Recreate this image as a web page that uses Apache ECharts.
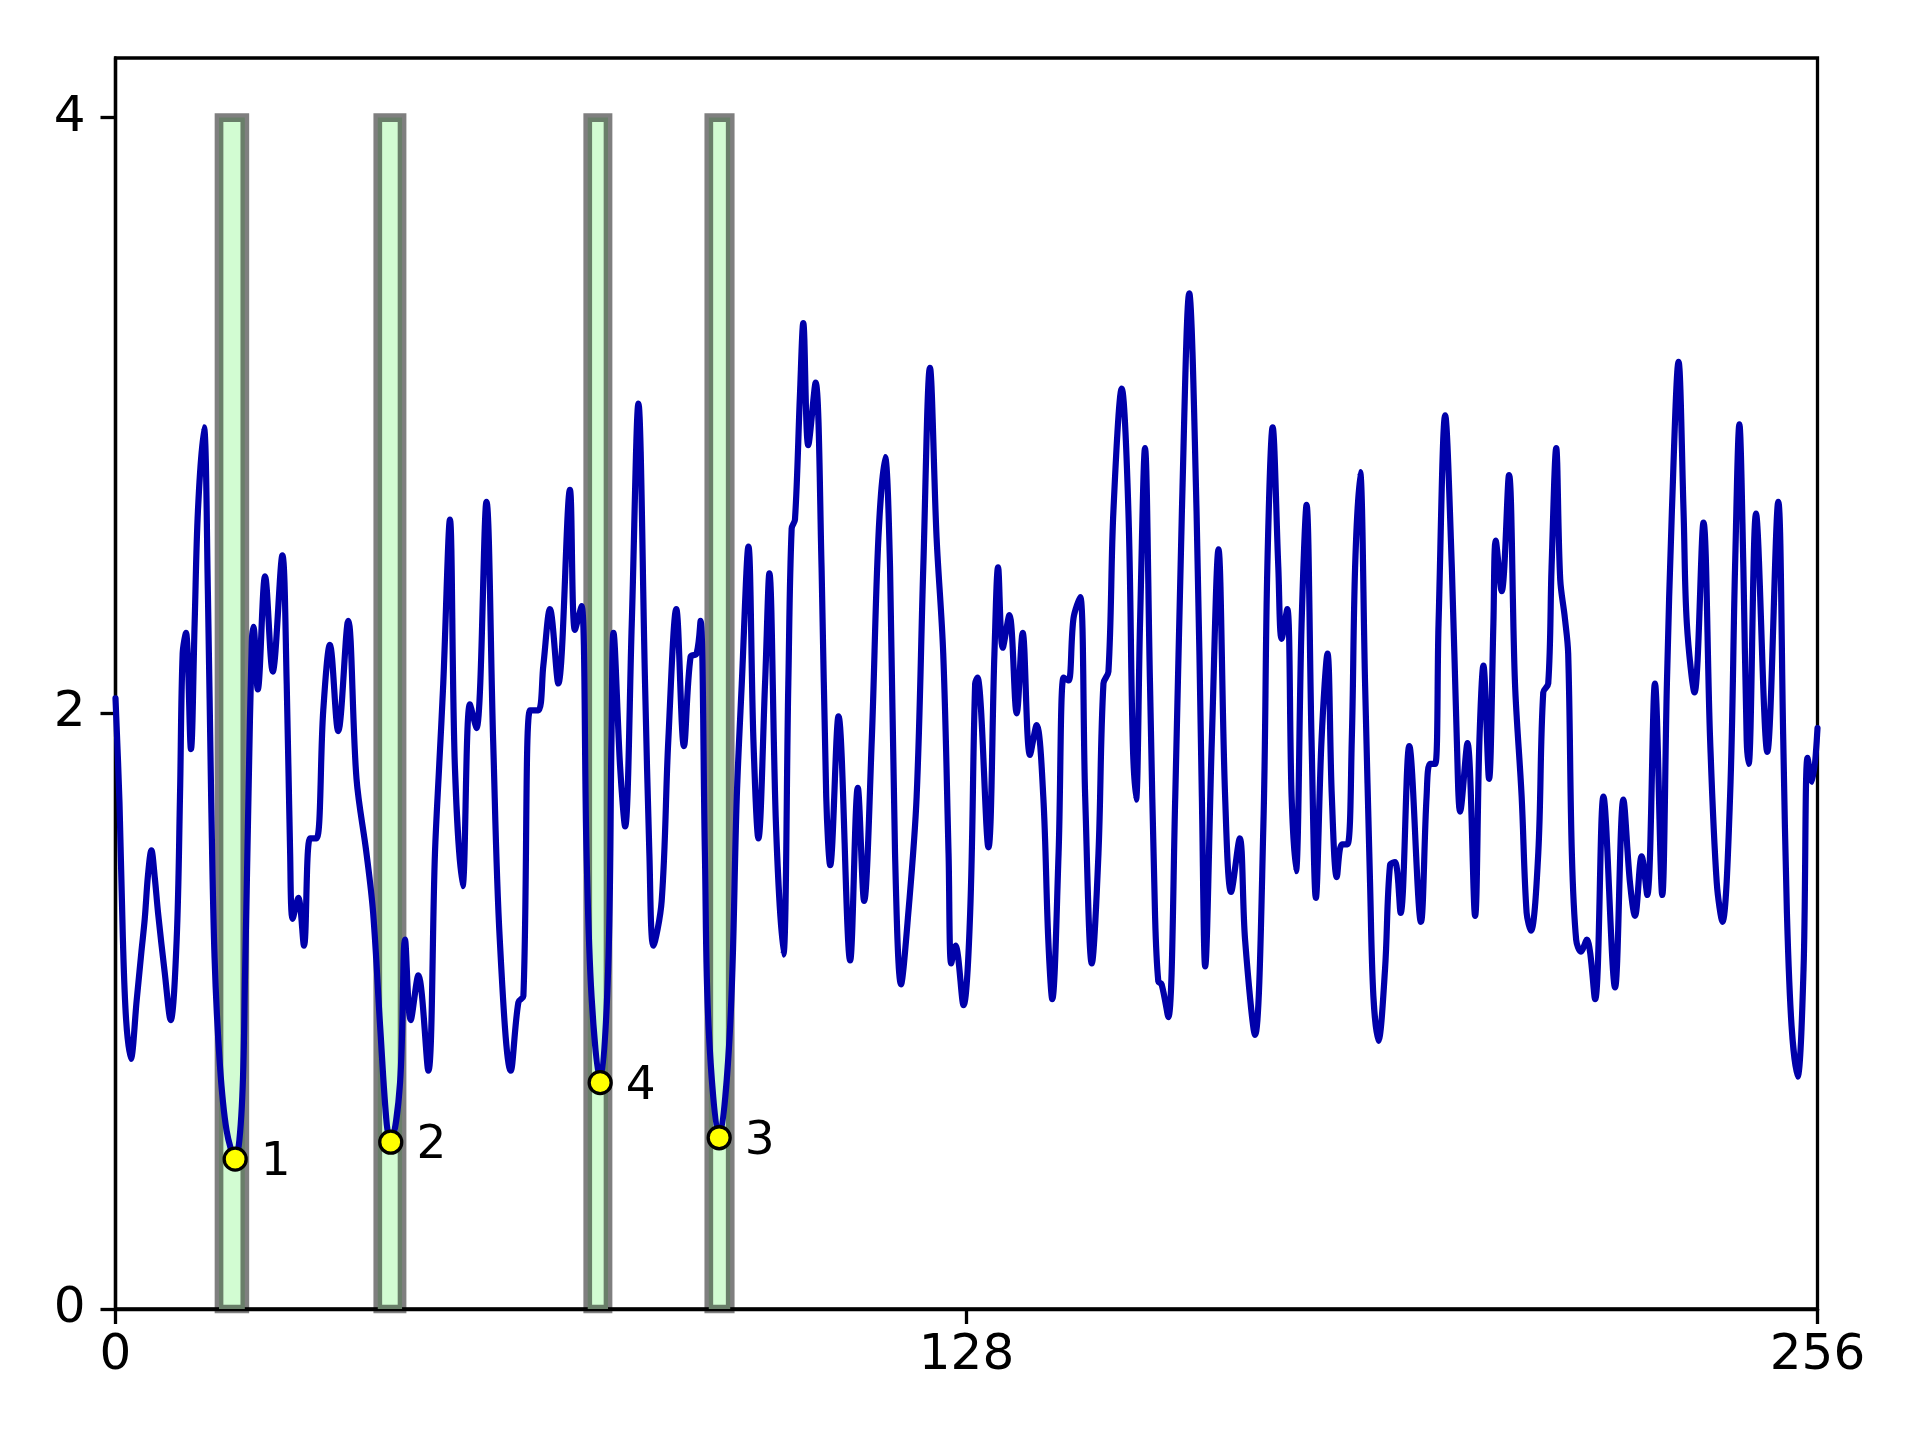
<!DOCTYPE html>
<html>
<head>
<meta charset="utf-8">
<script src="https://cdn.jsdelivr.net/npm/echarts@6/dist/echarts.min.js"></script>
<style>html,body{margin:0;padding:0;background:#fff}#c{width:1920px;height:1440px}</style>
</head>
<body>
<div id="c"></div>
<script>
// signal samples (x, value)
const sigX = [0,0.6,1.1,1.6,2.3,3.2,3.9,4.4,4.9,5.4,5.9,6.4,7.4,8.3,9.2,9.7,10.1,10.6,11.35,11.9,12.4,13.3,13.9,14.4,14.9,15.7,16.7,18.0,19.0,19.5,20.0,20.5,20.75,21.4,22.5,23.65,25.1,25.75,26.25,26.65,27.5,28.35,29.25,30.25,31.25,32.25,33.5,35.0,36.25,37.75,38.75,39.8,40.8,41.4,42.8,43.55,44.4,45.55,47.05,48.05,48.7,49.3,50.3,51.05,52.2,53.3,54.3,55.8,56.8,57.8,59.45,60.6,61.35,62.35,63.6,64.35,65.35,66.6,68.35,69.1,70.1,70.85,71.6,72.9,74.1,74.6,74.9,75.9,76.65,77.65,78.65,79.65,80.3,80.9,82.15,83.15,84.35,85.5,86.5,87.4,88.0,88.65,89.2,90.8,92.45,93.45,94.2,95.2,95.95,96.7,97.7,98.35,99.35,100.45,101.2,101.7,102.2,102.95,103.45,104.2,105.3,106.2,106.9,107.5,108.75,110.5,111.65,112.6,113.75,114.75,115.75,116.5,117.25,118.15,119.25,120.5,121.5,122.5,123.5,124.5,125.3,125.7,126.35,127.55,128.55,129.3,129.65,131.3,132.2,132.75,133.45,134.45,135.55,136.45,137.55,138.55,139.55,140.3,140.9,141.85,142.6,143.35,144.1,145.1,145.85,146.85,147.85,148.6,149.35,150.1,151.35,152.35,153.0,153.5,154.1,154.85,155.6,156.35,156.85,157.35,158.35,159.4,160.4,161.5,162.6,163.4,163.9,164.9,165.9,166.9,167.8,169.1,169.9,171.4,172.65,173.25,174.05,174.9,175.4,176.25,176.9,177.55,178.4,179.15,179.9,180.55,181.4,182.3,182.95,183.7,184.45,185.3,185.95,186.45,187.2,187.95,188.7,189.2,189.95,190.95,191.7,192.45,193.3,194.6,196.35,197.2,197.7,198.5,199.0,200.0,201.0,201.75,202.25,203.35,204.5,205.15,205.75,206.6,207.25,207.6,208.5,209.6,210.5,211.5,212.25,212.9,214.0,214.75,215.5,216.0,216.7,217.3,218.0,218.5,219.05,219.7,220.4,221.3,222.55,223.8,225.55,226.8,227.8,228.55,229.55,230.4,231.55,232.65,233.35,234.1,235.1,235.85,236.35,237.5,238.85,239.85,240.85,241.7,242.85,243.6,244.25,244.85,245.35,245.65,246.75,248.45,250.1,250.85,251.4,252.1,253.0,253.9,254.5,255.2,256];
const sigY = [2.05,1.70,1.25,0.97,0.84,1.04,1.20,1.31,1.46,1.54,1.45,1.33,1.13,0.97,1.24,1.72,2.20,2.27,1.88,2.30,2.68,2.96,2.40,1.70,1.18,0.82,0.60,0.503,0.68,1.14,1.72,2.24,2.29,2.08,2.46,2.14,2.53,2.10,1.55,1.31,1.38,1.22,1.58,1.58,2.01,2.23,1.94,2.31,1.78,1.53,1.33,0.95,0.62,0.56,0.76,1.24,0.97,1.12,0.80,1.53,1.83,2.10,2.65,1.82,1.42,2.03,1.95,2.71,1.91,1.24,0.80,1.03,1.05,2.01,2.01,2.16,2.35,2.10,2.75,2.28,2.36,1.53,1.05,0.76,1.14,1.91,2.27,1.82,1.62,2.30,3.04,2.10,1.53,1.22,1.37,1.91,2.35,1.89,2.19,2.20,2.31,1.53,0.95,0.575,0.95,1.72,2.10,2.56,1.91,1.58,2.10,2.47,1.62,1.19,2.10,2.62,2.65,3.07,3.31,2.90,3.11,2.49,1.72,1.49,1.99,1.17,1.75,1.37,1.91,2.59,2.86,2.49,1.53,1.09,1.33,1.72,2.49,3.16,2.59,2.20,1.53,1.16,1.22,1.02,1.33,2.10,2.12,1.55,2.20,2.49,2.22,2.33,2.00,2.27,1.86,1.96,1.72,1.24,1.04,1.53,2.12,2.11,2.32,2.39,1.72,1.16,1.53,2.10,2.14,2.68,3.09,2.68,1.91,1.71,2.30,2.89,2.10,1.33,1.10,1.09,0.98,1.72,2.68,3.41,2.68,1.72,1.15,1.91,2.55,1.72,1.40,1.58,1.24,0.92,1.62,2.49,2.96,2.49,2.25,2.35,1.72,1.47,2.30,2.70,1.91,1.38,1.91,2.20,1.72,1.45,1.56,1.56,1.91,2.49,2.81,2.10,1.43,1.05,0.90,1.14,1.49,1.50,1.33,1.89,1.30,1.72,1.83,1.83,2.30,3.00,2.49,1.91,1.67,1.90,1.32,1.91,2.16,1.78,2.30,2.58,2.41,2.80,2.10,1.72,1.33,1.27,1.53,2.07,2.10,2.49,2.89,2.45,2.32,2.20,1.53,1.24,1.20,1.24,1.04,1.72,1.08,1.71,1.43,1.32,1.52,1.39,2.10,1.39,2.10,2.68,3.18,2.68,2.30,2.07,2.64,1.91,1.43,1.30,1.72,2.49,2.97,2.49,1.91,1.83,2.67,1.87,2.71,1.91,1.33,0.95,0.78,1.14,1.85,1.77,1.95];

// highlighted windows
const winStart = [15.57, 39.45, 71.03, 89.24];
const winEnd   = [19.45, 43.10, 74.08, 92.46];
const winTop   = [4, 4, 4, 4];

// ranked minima
const minX = [18.0, 41.4, 72.9, 90.8];
const minY = [0.503, 0.56, 0.76, 0.575];
const minLabel = ['1', '2', '4', '3'];

const xTicks = [0, 128, 256];
const yTicks = [0, 2, 4];

const chart = echarts.init(document.getElementById('c'), null, {renderer: 'canvas'});
const font = 'DejaVu Sans';
const axisCommon = {
  splitLine: {show: false},
  axisLine: {show: true, lineStyle: {color: '#000', width: 3.3}},
  axisTick: {show: true, inside: false, length: 15, lineStyle: {color: '#000', width: 3.3}},
  axisLabel: {color: '#000', fontSize: 50, fontFamily: font}
};
chart.setOption({
  animation: false,
  backgroundColor: '#fff',
  grid: {left: 115.5, right: 102.5, top: 58, bottom: 131, show: true, borderColor: '#000', borderWidth: 3.3, backgroundColor: 'transparent'},
  xAxis: {
    type: 'value', min: 0, max: 256,
    splitLine: axisCommon.splitLine, axisLine: axisCommon.axisLine,
    axisTick: Object.assign({}, axisCommon.axisTick, {customValues: xTicks}),
    axisLabel: Object.assign({}, axisCommon.axisLabel, {customValues: xTicks, margin: 22})
  },
  yAxis: {
    type: 'value', min: 0, max: 4.2,
    splitLine: axisCommon.splitLine, axisLine: axisCommon.axisLine,
    axisTick: Object.assign({}, axisCommon.axisTick, {customValues: yTicks}),
    axisLabel: Object.assign({}, axisCommon.axisLabel, {customValues: yTicks, margin: 30})
  },
  series: [
    {
      type: 'custom', z: 1, clip: false,
      data: winStart.map((s, i) => [s, winEnd[i], winTop[i]]),
      encode: {x: [0, 1], y: 2},
      renderItem: function (params, api) {
        const p0 = api.coord([api.value(0), api.value(2)]);
        const p1 = api.coord([api.value(1), 0]);
        return {
          type: 'rect',
          shape: {x: p0[0], y: p0[1], width: p1[0] - p0[0], height: p1[1] - p0[1]},
          style: {fill: '#d2fcd2', stroke: 'rgba(0,0,0,0.5)', lineWidth: 8.7}
        };
      }
    },
    {
      type: 'line', z: 3,
      data: sigX.map((x, i) => [x, sigY[i]]),
      showSymbol: false, symbol: 'none',
      smooth: 0.35,
      lineStyle: {color: '#0000aa', width: 6.2, join: 'round', cap: 'round'}
    },
    {
      type: 'scatter', z: 5,
      data: minX.map((x, i) => ({value: [x, minY[i]], name: minLabel[i]})),
      symbol: 'circle', symbolSize: 22,
      itemStyle: {color: '#ffff00', borderColor: '#000', borderWidth: 3.3, opacity: 1},
      label: {show: true, position: 'right', distance: 13, offset: [0, 4], formatter: p => p.name, color: '#000', fontSize: 47, fontFamily: font}
    }
  ]
});
</script>
</body>
</html>
